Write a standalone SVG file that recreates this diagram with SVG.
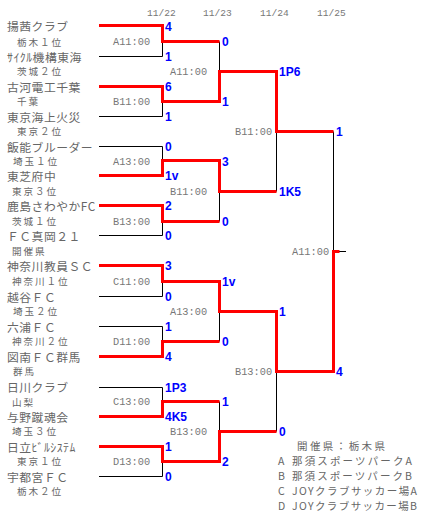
<svg xmlns="http://www.w3.org/2000/svg" width="425" height="521" viewBox="0 0 425 521">
<style>
.t{font-family:"Noto Sans CJK JP","Noto Sans CJK SC",sans-serif;fill:#666}
.n{font-size:11.8px;letter-spacing:0.5px}
.s{font-size:9.6px;letter-spacing:1.9px}
.lg{font-size:10.5px}
.tm{font-family:"Liberation Mono",monospace;font-size:10.3px;fill:#777}
.dt{font-family:"Liberation Mono",monospace;font-size:9.6px;fill:#777}
.sc{font-family:"Liberation Sans",Arial,sans-serif;font-weight:bold;font-size:12px;fill:#0000ff}
.r{fill:none;stroke:#ff0000;stroke-width:3;stroke-linejoin:miter;stroke-linecap:butt}
.b{fill:none;stroke:#000;stroke-width:1}
</style>
<rect width="425" height="521" fill="#fff"/>
<g id="dates">
<text class="dt" x="147" y="16">11/22</text>
<text class="dt" x="203" y="16">11/23</text>
<text class="dt" x="260" y="16">11/24</text>
<text class="dt" x="317" y="16">11/25</text>
</g>
<g id="connectors">
<g id="losers">
<path class="b" d="M99,56.5H162.5V41.5"/>
<path class="b" d="M99,116.5H162.5V101.5"/>
<path class="b" d="M219.5,41.5V71.5"/>
<path class="b" d="M99,146.5H162.5V160.5"/>
<path class="b" d="M99,235.5H162.5V220.5"/>
<path class="b" d="M219.5,191.5V221.5"/>
<path class="b" d="M276.5,131.5V191.5"/>
<path class="b" d="M99,296.5H162.5V281.5"/>
<path class="b" d="M99,326.5H162.5V341.5"/>
<path class="b" d="M219.5,311.5V341.5"/>
<path class="b" d="M99,387.5H162.5V401.5"/>
<path class="b" d="M99,476.5H162.5V461.5"/>
<path class="b" d="M219.5,401.5V431.5"/>
<path class="b" d="M276.5,371.5V431.5"/>
<path class="b" d="M333.5,131.5V251.5H346"/>
</g>
<g id="winners">
<path class="r" d="M99,25.5H162.5V41.5H219.5"/>
<path class="r" d="M99,86.5H162.5V101.5H219.5V71.5H276.5V131.5H333.5"/>
<path class="r" d="M99,175.5H162.5V160.5H219.5V191.5H276.5"/>
<path class="r" d="M99,205.5H162.5V221.5H219.5"/>
<path class="r" d="M99,265.5H162.5V281.5H219.5V311.5H276.5V371.5H333.5V251.5H339.5"/>
<path class="r" d="M99,356.5H162.5V341.5H219.5"/>
<path class="r" d="M99,416.5H162.5V401.5H219.5"/>
<path class="r" d="M99,446.5H162.5V461.5H219.5V431.5H276.5"/>
</g>
</g>
<g id="team-1"><text class="t n" x="7" y="31">揚茜クラブ</text><text class="t s" x="17" y="46">栃木１位</text></g>
<g id="team-2"><text class="t n" x="7" y="62">ｻｲｸﾙ機構東海</text><text class="t s" x="17" y="75">茨城２位</text></g>
<g id="team-3"><text class="t n" x="7" y="92">古河電工千葉</text><text class="t s" x="17" y="105">千葉</text></g>
<g id="team-4"><text class="t n" x="7" y="122">東京海上火災</text><text class="t s" x="17" y="135">東京２位</text></g>
<g id="team-5"><text class="t n" x="7" y="152">飯能ブルーダー</text><text class="t s" x="13" y="165">埼玉１位</text></g>
<g id="team-6"><text class="t n" x="7" y="181">東芝府中</text><text class="t s" x="12" y="195">東京３位</text></g>
<g id="team-7"><text class="t n" x="7" y="211">鹿島さわやかFC</text><text class="t s" x="12" y="225">茨城１位</text></g>
<g id="team-8"><text class="t n" x="7" y="241">ＦＣ真岡２１</text><text class="t s" x="12" y="255">開催県</text></g>
<g id="team-9"><text class="t n" x="7" y="271">神奈川教員ＳＣ</text><text class="t s" x="12" y="285">神奈川１位</text></g>
<g id="team-10"><text class="t n" x="7" y="302">越谷ＦＣ</text><text class="t s" x="13" y="315">埼玉２位</text></g>
<g id="team-11"><text class="t n" x="7" y="332">六浦ＦＣ</text><text class="t s" x="12" y="345">神奈川２位</text></g>
<g id="team-12"><text class="t n" x="7" y="361.5">図南ＦＣ群馬</text><text class="t s" x="13" y="375">群馬</text></g>
<g id="team-13"><text class="t n" x="7" y="392">日川クラブ</text><text class="t s" x="12" y="405.5">山梨</text></g>
<g id="team-14"><text class="t n" x="7" y="422">与野蹴魂会</text><text class="t s" x="12" y="435">埼玉３位</text></g>
<g id="team-15"><text class="t n" x="7" y="452">日立ﾋﾞﾙｼｽﾃﾑ</text><text class="t s" x="17" y="465">東京１位</text></g>
<g id="team-16"><text class="t n" x="7" y="482">宇都宮ＦＣ</text><text class="t s" x="17" y="495">栃木２位</text></g>
<g id="m1"><text class="tm" x="113" y="45">A11:00</text><text class="sc" x="165" y="31">4</text><text class="sc" x="165" y="61">1</text></g>
<g id="m2"><text class="tm" x="113" y="105">B11:00</text><text class="sc" x="165" y="91">6</text><text class="sc" x="165" y="121">1</text></g>
<g id="m3"><text class="tm" x="113" y="165">A13:00</text><text class="sc" x="165" y="151">0</text><text class="sc" x="165" y="180">1v</text></g>
<g id="m4"><text class="tm" x="113" y="225">B13:00</text><text class="sc" x="165" y="210">2</text><text class="sc" x="165" y="240">0</text></g>
<g id="m5"><text class="tm" x="113" y="285">C11:00</text><text class="sc" x="165" y="270">3</text><text class="sc" x="165" y="301">0</text></g>
<g id="m6"><text class="tm" x="113" y="345">D11:00</text><text class="sc" x="165" y="331">1</text><text class="sc" x="165" y="361">4</text></g>
<g id="m7"><text class="tm" x="113" y="405">C13:00</text><text class="sc" x="165" y="392">1P3</text><text class="sc" x="165" y="421">4K5</text></g>
<g id="m8"><text class="tm" x="113" y="465">D13:00</text><text class="sc" x="165" y="451">1</text><text class="sc" x="165" y="481">0</text></g>
<g id="m9"><text class="tm" x="170" y="75">A11:00</text><text class="sc" x="222" y="46">0</text><text class="sc" x="222" y="106">1</text></g>
<g id="m10"><text class="tm" x="170" y="195">B11:00</text><text class="sc" x="222" y="166">3</text><text class="sc" x="222" y="226">0</text></g>
<g id="m11"><text class="tm" x="170" y="315">A13:00</text><text class="sc" x="222" y="286">1v</text><text class="sc" x="222" y="346">0</text></g>
<g id="m12"><text class="tm" x="170" y="435">B13:00</text><text class="sc" x="222" y="406">1</text><text class="sc" x="222" y="466">2</text></g>
<g id="m13"><text class="tm" x="235" y="135">B11:00</text><text class="sc" x="279" y="76">1P6</text><text class="sc" x="279" y="196">1K5</text></g>
<g id="m14"><text class="tm" x="235" y="375">B13:00</text><text class="sc" x="279" y="316">1</text><text class="sc" x="279" y="436">0</text></g>
<g id="final"><text class="tm" x="292" y="255">A11:00</text><text class="sc" x="336" y="136">1</text><text class="sc" x="336" y="376">4</text></g>
<g id="legend">
<text class="t lg" x="297" y="450" textLength="88" lengthAdjust="spacing">開催県：栃木県</text>
<text class="t lg" x="278" y="465">A<tspan x="292" textLength="120" lengthAdjust="spacing">那須スポーツパークA</tspan></text>
<text class="t lg" x="278" y="480">B<tspan x="292" textLength="120" lengthAdjust="spacing">那須スポーツパークB</tspan></text>
<text class="t lg" x="278" y="495">C<tspan x="292" textLength="125" lengthAdjust="spacing">JOYクラブサッカー場A</tspan></text>
<text class="t lg" x="278" y="510">D<tspan x="292" textLength="125" lengthAdjust="spacing">JOYクラブサッカー場B</tspan></text>
</g>
</svg>
